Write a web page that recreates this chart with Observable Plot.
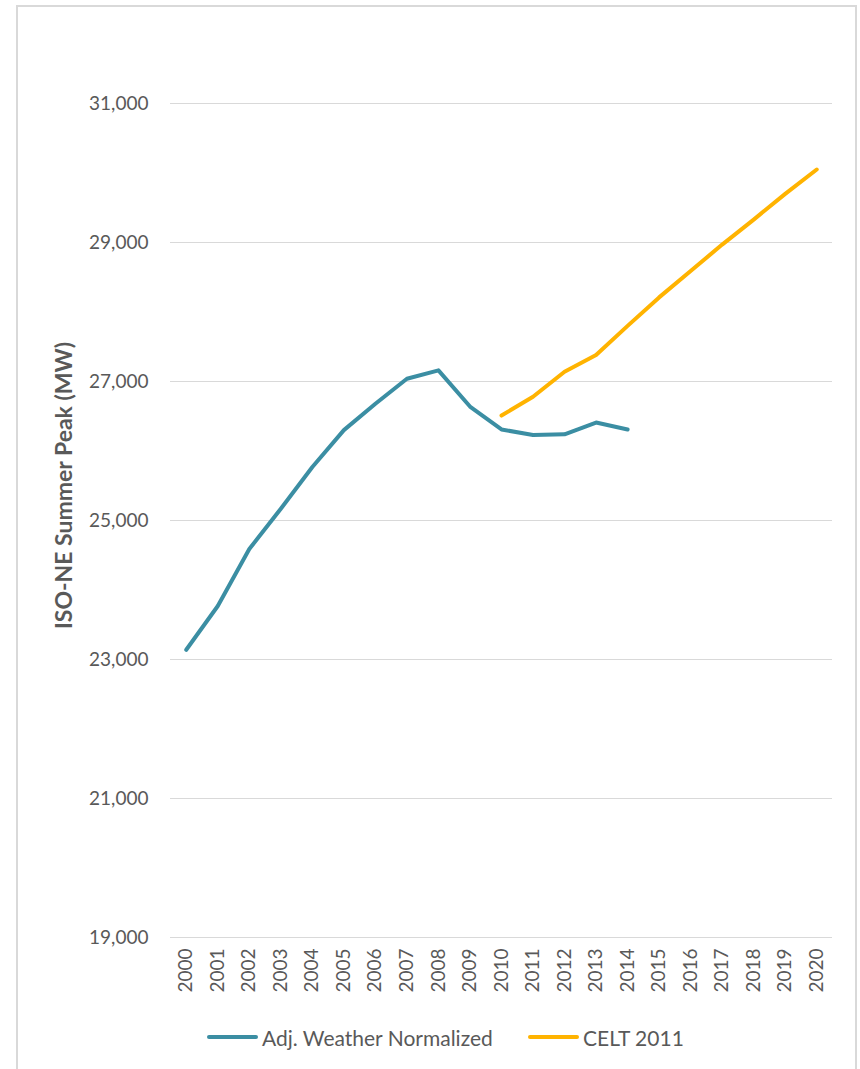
<!DOCTYPE html>
<html>
<head>
<meta charset="utf-8">
<script src="https://cdn.jsdelivr.net/npm/d3@7"></script>
<script src="https://cdn.jsdelivr.net/npm/@observablehq/plot@0.6"></script>
<style>
  html, body { margin: 0; padding: 0; background: #fff; }
  body { width: 860px; height: 1069px; position: relative; overflow: hidden; font-family: Lato, "Open Sans", sans-serif; }
  #frame { position: absolute; left: 16px; top: 5px; width: 837px; height: 1100px; border: 2px solid #d9d9d9; border-bottom: none; }
  #chart { position: absolute; left: 0; top: 0; }
  .legend { position: absolute; top: 1024px; height: 26px; display: flex; align-items: center; font-size: 21px; color: #595959; }
  .legend .sw { width: 51px; height: 4px; border-radius: 2px; margin-right: 4px; }
</style>
</head>
<body>
<div id="frame"></div>
<div id="chart"></div>
<div class="legend" style="left:207px"><span class="sw" style="background:#3b8ea3"></span><span>Adj. Weather Normalized</span></div>
<div class="legend" style="left:528px"><span class="sw" style="background:#ffb300"></span><span>CELT 2011</span></div>
<script>
// ISO-NE summer peak load (MW): weather-normalized actuals and the CELT 2011 forecast
const years = ["2000","2001","2002","2003","2004","2005","2006","2007","2008","2009","2010",
               "2011","2012","2013","2014","2015","2016","2017","2018","2019","2020"];

const normalizedYears = ["2000","2001","2002","2003","2004","2005","2006","2007","2008","2009",
                         "2010","2011","2012","2013","2014"];
const normalizedPeak = [23140, 23770, 24590, 25170, 25770, 26300, 26680, 27040, 27160, 26640,
                        26310, 26230, 26240, 26410, 26310];

const celtYears = ["2010","2011","2012","2013","2014","2015","2016","2017","2018","2019","2020"];
const celtPeak = [26510, 26780, 27140, 27380, 27800, 28210, 28590, 28970, 29330, 29700, 30050];

const yTicks = [19000, 21000, 23000, 25000, 27000, 29000, 31000];
const yLabel = "ISO-NE Summer Peak (MW)";

const normalized = normalizedYears.map((year, i) => ({year, peak: normalizedPeak[i]}));
const celt = celtYears.map((year, i) => ({year, peak: celtPeak[i]}));

const chart = Plot.plot({
  width: 860,
  height: 1010,
  marginLeft: 170,
  marginRight: 28,
  marginTop: 103,
  marginBottom: 73,
  style: {fontFamily: "Lato, 'Open Sans', sans-serif", fontSize: "19px", color: "#595959", background: "transparent"},
  x: {type: "point", domain: years, padding: 0.5, round: false, label: null},
  y: {domain: [19000, 31000], label: null},
  marks: [
    Plot.gridY(yTicks, {stroke: "#d9d9d9", strokeOpacity: 1, strokeWidth: 1}),
    Plot.axisY(yTicks, {tickSize: 0, tickPadding: 22, tickFormat: d3.format(","), fontSize: 19, fill: "#595959"}),
    Plot.axisX(years, {tickSize: 0, tickPadding: 11, tickRotate: -90, fontSize: 19, fill: "#595959"}),
    Plot.text([yLabel], {frameAnchor: "left", dx: -106, dy: -35, rotate: -90, textAnchor: "middle",
                         lineAnchor: "middle", fontWeight: "bold", fontSize: 23, fill: "#595959"}),
    Plot.lineY(normalized, {x: "year", y: "peak", stroke: "#3b8ea3", strokeWidth: 4, strokeLinejoin: "round", strokeLinecap: "round"}),
    Plot.lineY(celt, {x: "year", y: "peak", stroke: "#ffb300", strokeWidth: 4, strokeLinejoin: "round", strokeLinecap: "round"})
  ]
});
document.getElementById("chart").append(chart);
</script>
</body>
</html>
